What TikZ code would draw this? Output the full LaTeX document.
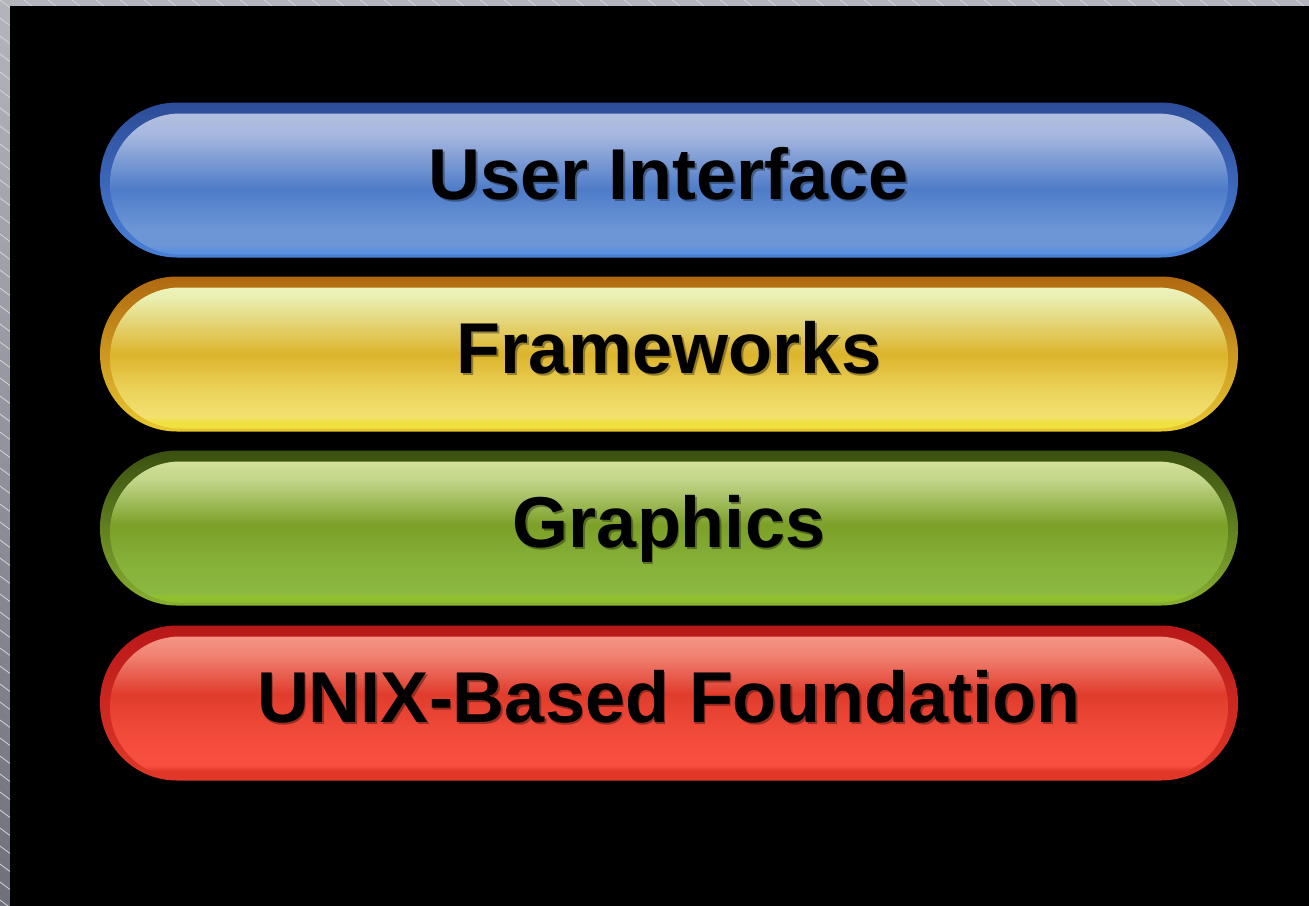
\documentclass[tikz,border=0pt]{standalone}
\usepackage{fontspec}
\setmainfont{Liberation Sans}
\usetikzlibrary{positioning, calc}
% frame
\definecolor{framegrey}{HTML}{B4B4BC}
\definecolor{framedark}{HTML}{70707C}
\definecolor{framestripe}{HTML}{D4D4DC}
% user interface
\definecolor{uirim}{HTML}{2C4C98}
\definecolor{uirimlow}{HTML}{4A80D8}
\definecolor{uitop}{HTML}{B8C2DE}
\definecolor{uiupper}{HTML}{A8B8E0}
\definecolor{uimid}{HTML}{4E7CC8}
\definecolor{uilower}{HTML}{6C96D6}
\definecolor{uiband}{HTML}{5A90E0}
% frameworks
\definecolor{fwrim}{HTML}{B06810}
\definecolor{fwrimlow}{HTML}{E8C830}
\definecolor{fwtop}{HTML}{EEF6C4}
\definecolor{fwupper}{HTML}{EAEEB0}
\definecolor{fwmid}{HTML}{DCB42C}
\definecolor{fwlower}{HTML}{F2E070}
\definecolor{fwband}{HTML}{F0E040}
% graphics
\definecolor{gfxrim}{HTML}{3A5010}
\definecolor{gfxrimlow}{HTML}{88B030}
\definecolor{gfxtop}{HTML}{DCE8A0}
\definecolor{gfxupper}{HTML}{C0D488}
\definecolor{gfxmid}{HTML}{7CA028}
\definecolor{gfxlower}{HTML}{8AB840}
\definecolor{gfxband}{HTML}{90C030}
% unix
\definecolor{unixrim}{HTML}{B81818}
\definecolor{unixrimlow}{HTML}{E03828}
\definecolor{unixtop}{HTML}{F8A090}
\definecolor{unixupper}{HTML}{F08070}
\definecolor{unixmid}{HTML}{E03C2C}
\definecolor{unixlower}{HTML}{F85040}
\definecolor{unixband}{HTML}{E03828}
\pgfdeclareverticalshading{uiglass}{100bp}{color(0bp)=(uiband); color(25bp)=(uiband); color(27bp)=(uiband); color(29bp)=(uilower); color(34bp)=(uilower); color(47bp)=(uimid); color(65bp)=(uiupper); color(75bp)=(uitop); color(100bp)=(uitop)}
\pgfdeclareverticalshading{fwglass}{100bp}{color(0bp)=(fwband); color(25bp)=(fwband); color(28bp)=(fwband); color(30bp)=(fwlower); color(38bp)=(fwlower!70!fwmid); color(50bp)=(fwmid); color(68bp)=(fwupper); color(75bp)=(fwtop); color(100bp)=(fwtop)}
\pgfdeclareverticalshading{gfxglass}{100bp}{color(0bp)=(gfxband); color(25bp)=(gfxband); color(28bp)=(gfxband); color(29bp)=(gfxlower); color(37bp)=(gfxlower!80!gfxmid); color(51bp)=(gfxmid); color(65bp)=(gfxupper); color(75bp)=(gfxtop); color(100bp)=(gfxtop)}
\pgfdeclareverticalshading{unixglass}{100bp}{color(0bp)=(unixband); color(25bp)=(unixband); color(28bp)=(unixband); color(30bp)=(unixlower); color(39bp)=(unixlower!80!unixmid); color(53bp)=(unixmid); color(65bp)=(unixupper); color(75bp)=(unixtop); color(100bp)=(unixtop)}
\begin{document}
\begin{tikzpicture}[x=1pt, y=-1pt,
  layer/.style={rectangle, rounded corners=77pt, minimum width=1138pt,
    minimum height=155pt, inner sep=0pt},
  layertext/.style={font=\fontsize{72}{78}\selectfont\bfseries, text=black,
    inner sep=0pt, anchor=base},
  textshadow/.style={layertext, opacity=0.35}]
\useasboundingbox (0,0) rectangle (1309,905);
% Grey frame
\shade[top color=framegrey, bottom color=framedark] (0,0) rectangle (1309,905);
\begin{scope}
\clip (0,0) rectangle (1309,905);
\foreach \k in {-52,...,55} {
    \draw[framestripe, line width=0.8pt] (\k*24, 0) -- ++(1600, 1200);
}
\end{scope}
\fill[black] (10,6) rectangle (1320,915);

% Layers
\foreach \name/\y/\rimtop/\rimlow/\glass/\txt in {
    ui/180/uirim/uirimlow/uiglass/User Interface,
    fw/354/fwrim/fwrimlow/fwglass/Frameworks,
    gfx/528/gfxrim/gfxrimlow/gfxglass/Graphics,
    unix/703/unixrim/unixrimlow/unixglass/UNIX-Based Foundation} {
    \node[layer, top color=\rimtop, bottom color=\rimlow,
        path picture={\shade[shading=\glass, rounded corners=70pt]
            ([shift={(10pt,-11pt)}]path picture bounding box.north west) rectangle
            ([shift={(-10pt,3pt)}]path picture bounding box.south east);}]
        (\name) at (669,\y) {};
    \node[textshadow] (\name-shadow) at ([shift={(1.5pt,-21.5pt)}]\name.center) {\txt};
    \node[layertext] (\name-text) at ([yshift=-19pt]\name.center) {\txt};
}
\end{tikzpicture}
\end{document}
